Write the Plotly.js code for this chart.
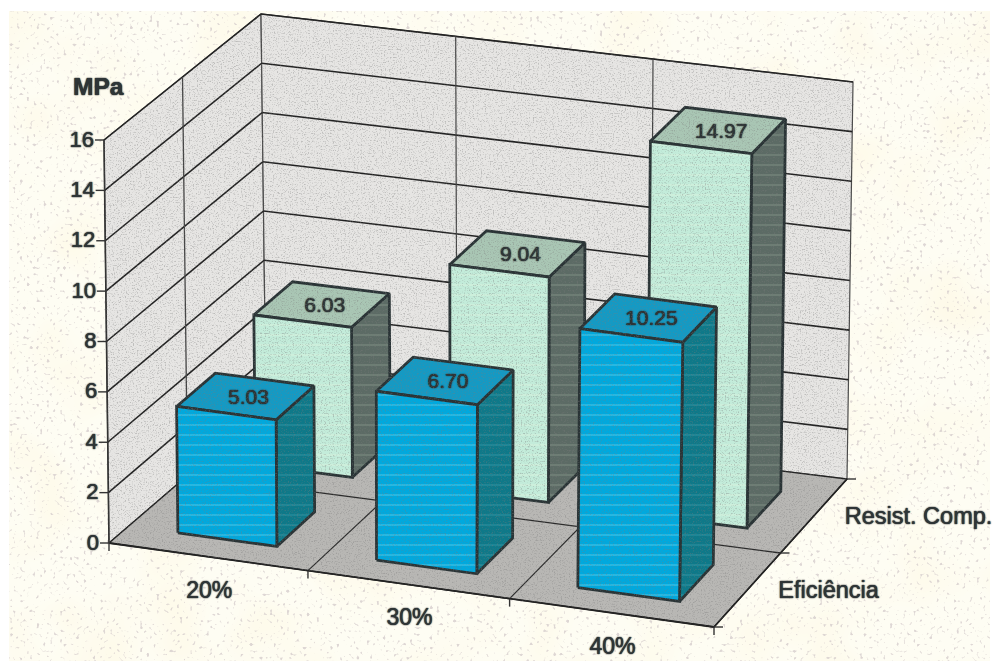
<!DOCTYPE html>
<html>
<head>
<meta charset="utf-8">
<script src="https://cdn.plot.ly/plotly-3.0.1.min.js"></script>
<style>html,body{margin:0;padding:0;background:#fff}</style>
</head>
<body>
<div id="chart" style="width:995px;height:666px"></div>
<script>
// Chart data
const categories = ['20%', '30%', '40%'];
const seriesNames = ['Eficiência', 'Resist. Comp.'];
const eficiencia = [5.03, 6.70, 10.25];
const resistComp = [6.03, 9.04, 14.97];
const valueTicks = [0, 2, 4, 6, 8, 10, 12, 14, 16];
const valueMax = 16;

// Corners of the 3D box on the page: [category, depth, value], each 0 or 1
const box = {
  '000': [109, 543], '100': [714, 627], '010': [266, 408], '110': [847, 479],
  '001': [104, 140], '101': [720, 221], '011': [261, 14],  '111': [853, 82]
};

// Trilinear projection of box coordinates onto the page, with slight
// foreshortening along the category direction
const foreshorten = 0.98;
function project(u0, v, w) {
  const u = u0 * foreshorten / (1 + (foreshorten - 1) * u0);
  let x = 0, y = 0;
  for (const a of [0, 1]) for (const b of [0, 1]) for (const c of [0, 1]) {
    const k = (a ? u : 1 - u) * (b ? v : 1 - v) * (c ? w : 1 - w);
    const p = box['' + a + b + c];
    x += k * p[0];
    y += k * p[1];
  }
  return [x, y];
}
const val = v => v / valueMax;

const traces = [];
function face(corners, fill, lineColor, lineWidth, pattern) {
  const pts = corners.map(c => project(c[0], c[1], c[2]));
  pts.push(pts[0]);
  const t = {
    type: 'scatter', mode: 'lines', hoverinfo: 'skip', showlegend: false,
    x: pts.map(p => p[0]), y: pts.map(p => p[1]),
    fill: 'toself', fillcolor: fill,
    line: {color: lineColor, width: lineWidth}
  };
  if (pattern) t.fillpattern = pattern;
  traces.push(t);
}
function segment(a, b, color, width) {
  const p = project(a[0], a[1], a[2]), q = project(b[0], b[1], b[2]);
  traces.push({
    type: 'scatter', mode: 'lines', hoverinfo: 'skip', showlegend: false,
    x: [p[0], q[0]], y: [p[1], q[1]], line: {color: color, width: width}
  });
}
function tick(a, dx, dy) {
  const p = project(a[0], a[1], a[2]);
  traces.push({
    type: 'scatter', mode: 'lines', hoverinfo: 'skip', showlegend: false,
    x: [p[0], p[0] + dx], y: [p[1], p[1] + dy], line: {color: '#333', width: 1.4}
  });
}

// Walls and floor
const wallFill = '#e6e5e3', floorFill = '#b8b7b4', wallEdge = '#4a4a4a';
face([[0,0,0],[0,1,0],[0,1,1],[0,0,1]], wallFill, wallEdge, 1.2);
face([[0,1,0],[1,1,0],[1,1,1],[0,1,1]], wallFill, wallEdge, 1.2);
face([[0,0,0],[1,0,0],[1,1,0],[0,1,0]], floorFill, '#222', 1.4);

// Gridlines on both walls
valueTicks.slice(1).forEach(t => {
  const w = val(t);
  segment([0,0,w], [0,1,w], '#222', 1.6);
  segment([0,1,w], [1,1,w], '#222', 1.6);
});
segment([0,0.5,0], [0,0.5,1], '#444', 1.3);
segment([0,0.5,0], [1,0.5,0], '#2b2b2b', 1.3);
[1/3, 2/3].forEach(u => {
  segment([u,1,0], [u,1,1], '#444', 1.2);
  segment([u,0,0], [u,1,0], '#2b2b2b', 1.2);
});
segment([0,0,0], [0,0,1], '#333', 1.6);
segment([0,0,0], [1,0,0], '#222', 1.8);
segment([1,0,0], [1,1,0], '#222', 1.6);

// Tick marks on the three axes
valueTicks.forEach(t => tick([0,0,val(t)], -9, 0));
[0, 1/3, 2/3, 1].forEach(u => tick([u,0,0], 0, 8));
[0, 0.5, 1].forEach(v => tick([1,v,0], 9, 0));

// One 3D column: right side, top, then front
function column(i, j, value, colors) {
  const u0 = (i + 0.25) / 3, u1 = (i + 0.75) / 3;
  const v0 = (j + 0.25) / 2, v1 = (j + 0.75) / 2;
  const w = val(value);
  const edge = '#2a3436', lw = 2.8;
  const stripes = {shape: '-', size: 10, solidity: 0.1, fgcolor: colors.stripe, bgcolor: colors.front, fgopacity: 0.55};
  const sideStripes = {shape: '-', size: 10, solidity: 0.1, fgcolor: colors.stripe, bgcolor: colors.side, fgopacity: 0.25};
  face([[u1,v0,0],[u1,v1,0],[u1,v1,w],[u1,v0,w]], colors.side, edge, lw, sideStripes);
  face([[u0,v0,w],[u1,v0,w],[u1,v1,w],[u0,v1,w]], colors.top, edge, lw);
  face([[u0,v0,0],[u1,v0,0],[u1,v0,w],[u0,v0,w]], colors.front, edge, lw, stripes);
}
const paleColors = {front: '#c3ecda', top: '#a9c6b4', side: '#5c6b65', stripe: '#e8f6e0'};
const blueColors = {front: '#00a9de', top: '#149ac4', side: '#0e7989', stripe: '#8fdcec'};
resistComp.forEach((v, i) => column(i, 1, v, paleColors));
eficiencia.forEach((v, i) => column(i, 0, v, blueColors));

// Text helper: one text trace per group of labels
const soft = '0 0 1px #222, 0 0 1.5px #333';
function labels(xs, ys, texts, pos, size, bold) {
  traces.push({
    type: 'scatter', mode: 'text', hoverinfo: 'skip', showlegend: false,
    x: xs, y: ys, text: texts, textposition: pos,
    textfont: {family: 'Liberation Sans, Arial, sans-serif', size: size, color: '#2e3537',
               weight: bold ? 700 : 400, shadow: soft}
  });
}

// Value labels centred on the column tops
const valueLabel = (v, i, j) => {
  const p = project((i + 0.5) / 3, (j + 0.5) / 2, val(v));
  return {x: p[0] + 3, y: p[1] + 2, t: v.toFixed(2)};
};
const topLabels = resistComp.map((v, i) => valueLabel(v, i, 1))
  .concat(eficiencia.map((v, i) => valueLabel(v, i, 0)));
labels(topLabels.map(l => l.x), topLabels.map(l => l.y), topLabels.map(l => l.t), 'middle center', 21);

// Axis labels
const valuePts = valueTicks.map(t => project(0, 0, val(t)));
labels(valuePts.map(p => p[0] - 10), valuePts.map(p => p[1] + 1), valueTicks.map(String), 'middle left', 22);
const catPts = categories.map((c, i) => project((i + 0.5) / 3, 0, 0));
labels(catPts.map(p => p[0] + 1), catPts.map(p => p[1] + 35), categories, 'middle center', 23);
const depthPts = seriesNames.map((s, j) => project(1, (j + 0.5) / 2, 0));
labels(depthPts.map(p => p[0] + 31), depthPts.map(p => p[1] + 2), seriesNames, 'middle right', 23.5);
labels([73], [89], ['MPa'], 'middle right', 24.5, true);

// Paper stipple behind the plot and fine grain above it, the latter clipped to the box outline
const outline = ['000', '100', '110', '111', '011', '001']
  .map(k => box[k].join(',')).join(' ');
const paperSvg = `<svg xmlns="http://www.w3.org/2000/svg" width="995" height="666">
<filter id="d" x="0" y="0" width="100%" height="100%"><feTurbulence type="fractalNoise" baseFrequency="0.3" numOctaves="1" seed="7"/>
<feColorMatrix values="0 0 0 0 0.66 0 0 0 0 0.6 0 0 0 0 0.6 9 0 0 0 -5.6"/></filter>
<filter id="b" x="0" y="0" width="100%" height="100%"><feTurbulence type="fractalNoise" baseFrequency="0.015" numOctaves="2" seed="4"/>
<feColorMatrix values="0 0 0 0 0.99 0 0 0 0 0.93 0 0 0 0 0.74 1.1 0 0 0 -0.45"/></filter>
<rect width="995" height="666" fill="#fff"/>
<rect x="9" y="11" width="981" height="650" fill="#fefdf3"/>
<rect x="9" y="11" width="981" height="650" filter="url(#b)"/>
<rect x="9" y="11" width="981" height="650" filter="url(#d)" opacity="0.75"/></svg>`;
const grainSvg = `<svg xmlns="http://www.w3.org/2000/svg" width="995" height="666">
<filter id="g" x="0" y="0" width="100%" height="100%"><feTurbulence type="fractalNoise" baseFrequency="0.75" numOctaves="2" seed="11"/>
<feColorMatrix values="0 0 0 0 0.2 0 0 0 0 0.2 0 0 0 0 0.2 4 0 0 0 -2.1"/></filter>
<clipPath id="c"><polygon points="${outline}"/></clipPath>
<g clip-path="url(#c)"><rect width="995" height="666" filter="url(#g)" opacity="0.38"/></g></svg>`;
const dataUri = s => 'data:image/svg+xml;charset=utf-8,' + encodeURIComponent(s);
const fullPage = {xref: 'paper', yref: 'paper', x: 0, y: 1, sizex: 1, sizey: 1,
                  xanchor: 'left', yanchor: 'top', sizing: 'stretch'};

const layout = {
  width: 995, height: 666,
  margin: {l: 0, r: 0, t: 0, b: 0},
  paper_bgcolor: '#fff', plot_bgcolor: 'rgba(0,0,0,0)',
  showlegend: false,
  xaxis: {range: [0, 995], visible: false, fixedrange: true},
  yaxis: {range: [666, 0], visible: false, fixedrange: true},
  images: [
    Object.assign({source: dataUri(paperSvg), layer: 'below'}, fullPage),
    Object.assign({source: dataUri(grainSvg), layer: 'above'}, fullPage)
  ]
};
Plotly.newPlot('chart', traces, layout, {displayModeBar: false, staticPlot: true});
</script>
</body>
</html>
